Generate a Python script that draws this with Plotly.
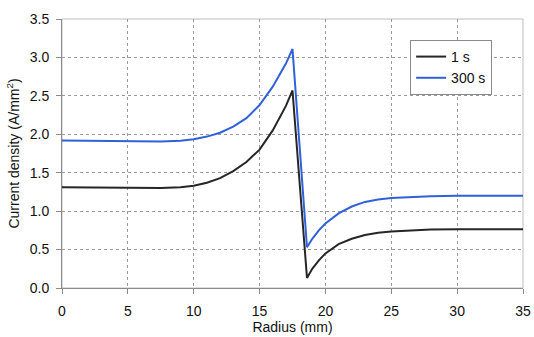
import plotly.graph_objects as go

radius = [0, 2.5, 5, 7.5, 9, 10, 11, 12, 13, 14, 15, 16, 17, 17.5, 18.6, 18.8, 19, 19.5, 20, 21, 22, 23, 24, 25, 26, 27, 28, 30, 32, 35]
j_300s = [1.92, 1.915, 1.91, 1.905, 1.915, 1.935, 1.97, 2.02, 2.10, 2.21, 2.38, 2.62, 2.92, 3.11, 0.53, 0.59, 0.64, 0.75, 0.84, 0.97, 1.06, 1.12, 1.15, 1.17, 1.18, 1.19, 1.195, 1.20, 1.20, 1.20]
j_1s = [1.31, 1.305, 1.30, 1.30, 1.31, 1.33, 1.37, 1.43, 1.52, 1.64, 1.80, 2.05, 2.37, 2.57, 0.13, 0.19, 0.25, 0.36, 0.45, 0.57, 0.64, 0.69, 0.72, 0.735, 0.745, 0.755, 0.76, 0.765, 0.765, 0.765]
series_names = ["1 s", "300 s"]

FONT = "Liberation Sans, Arial, sans-serif"
FS = 14

fig = go.Figure()
fig.add_trace(go.Scatter(x=radius, y=j_1s, mode="lines", name=series_names[0],
                         line=dict(color="#262626", width=2)))
fig.add_trace(go.Scatter(x=radius, y=j_300s, mode="lines", name=series_names[1],
                         line=dict(color="#2f62d8", width=2)))

axis_common = dict(
    showgrid=True, gridcolor="#9a9a9a", griddash="dot", gridwidth=1,
    showline=True, linecolor="#8a8a8a", linewidth=1,
    ticks="outside", ticklen=5, tickcolor="#8a8a8a",
    tickfont=dict(family=FONT, size=FS, color="#111"),
    zeroline=False, automargin=False,
)

fig.update_layout(
    width=534, height=337,
    margin=dict(l=62, r=11, t=19, b=49),
    paper_bgcolor="white", plot_bgcolor="white",
    font=dict(family=FONT, size=FS, color="#111"),
    xaxis=dict(range=[0, 35], dtick=5, tick0=0, ticklabelstandoff=5,
               title=dict(text="Radius (mm)", font=dict(family=FONT, size=FS), standoff=0),
               **axis_common),
    yaxis=dict(range=[0, 3.5], dtick=0.5, tick0=0, tickformat=".1f", ticklabelstandoff=4,
               title=dict(text="Current density (A/mm<sup>2</sup>)", font=dict(family=FONT, size=FS), standoff=6),
               **axis_common),
    legend=dict(x=0.933, y=0.922, xanchor="right", yanchor="top",
                bgcolor="white", bordercolor="#8a8a8a", borderwidth=1,
                font=dict(family=FONT, size=FS, color="#111"),
                itemwidth=30, tracegroupgap=0),
    showlegend=True,
)

fig.add_shape(type="rect", xref="paper", yref="paper", x0=0, y0=0, x1=1, y1=1,
              line=dict(color="#bdbdbd", width=1), layer="below")

fig.write_html("out.html",
               config={"displayModeBar": False},
               post_script="document.body.style.margin='0';document.body.style.padding='0';")
